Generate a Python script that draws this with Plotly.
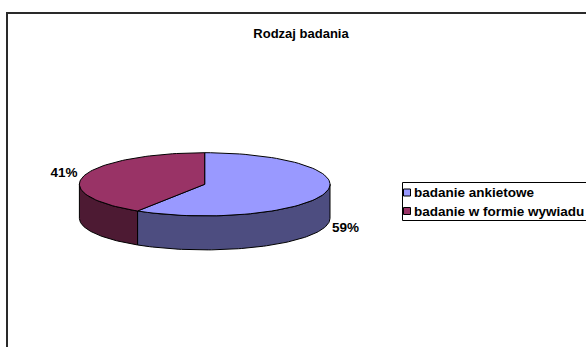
import numpy as np
import plotly.graph_objects as go

# Data
categories = ["badanie ankietowe", "badanie w formie wywiadu"]
shares = [59, 41]
chart_title = "Rodzaj badania"

# Styling
top_colors = ["#9999FF", "#993366"]
side_colors = ["#4D4D80", "#4D1A33"]
FONT = "Arial, 'Liberation Sans', sans-serif"

W, H = 586, 347
# Ellipse geometry of the tilted pie (pixel units)
CX, CY, RX, RY, DEPTH = 204.7, 184.3, 125.3, 31.6, 34


def arc(a_from, a_to, dy=0.0, n=80):
    t = np.radians(np.linspace(a_from, a_to, n))
    return CX + RX * np.cos(t), CY - RY * np.sin(t) + dy


def front_part(lo, hi):
    """Portion of [lo, hi] (degrees) lying on the near half of the ellipse."""
    parts = []
    for k in (-1, 0, 1):
        a, b = -180 + 360 * k, 0 + 360 * k
        s, e = max(lo, a), min(hi, b)
        if e > s:
            parts.append((s, e))
    return parts


fig = go.Figure()

# Slice angles: start at 12 o'clock, run clockwise
total = sum(shares)
starts, ends = [], []
angle = 90.0
for v in shares:
    starts.append(angle)
    angle -= v / total * 360.0
    ends.append(angle)

# Side walls first
for i, (a0, a1) in enumerate(zip(starts, ends)):
    for lo, hi in front_part(a1, a0):
        xt, yt = arc(lo, hi)
        xb, yb = arc(hi, lo, DEPTH)
        xs = np.concatenate([xt, xb, xt[:1]])
        ys = np.concatenate([yt, yb, yt[:1]])
        fig.add_trace(go.Scatter(
            x=xs, y=ys, mode="lines", fill="toself",
            fillcolor=side_colors[i], line=dict(color="#000000", width=1),
            showlegend=False, hoverinfo="skip"))

# Top faces
for i, (a0, a1) in enumerate(zip(starts, ends)):
    xa, ya = arc(a0, a1)
    xs = np.concatenate([[CX], xa, [CX]])
    ys = np.concatenate([[CY], ya, [CY]])
    fig.add_trace(go.Scatter(
        x=xs, y=ys, mode="lines", fill="toself",
        fillcolor=top_colors[i], line=dict(color="#000000", width=1),
        showlegend=False, hoverinfo="skip"))

# Percentage labels placed just outside each slice
lx, ly, lt = [], [], []
for v, a0, a1 in zip(shares, starts, ends):
    mid = np.radians((a0 + a1) / 2)
    x = CX + 1.17 * RX * np.cos(mid)
    y = CY - 1.17 * RY * np.sin(mid)
    if np.sin(mid) < 0:
        y += DEPTH
    lx.append(x)
    ly.append(y)
    lt.append(f"{v}%")
fig.add_trace(go.Scatter(
    x=lx, y=ly, text=lt, mode="text",
    textfont=dict(family=FONT, size=13.5, color="#000000", weight="bold"),
    showlegend=False, hoverinfo="skip"))

# Legend box
LEG_X, LEG_Y, ROW = 402.5, 182.5, 18.5
fig.add_shape(type="rect", xref="x", yref="y",
              x0=LEG_X, y0=LEG_Y, x1=W + 10, y1=LEG_Y + 2 * ROW + 1,
              line=dict(color="#000000", width=1), fillcolor="#FFFFFF", layer="below")
key_y = [LEG_Y + 10 + i * ROW for i in range(len(categories))]
fig.add_trace(go.Scatter(
    x=[LEG_X + 4.5] * len(categories), y=key_y, mode="markers",
    marker=dict(symbol="square", size=7, color=top_colors,
                line=dict(color="#000000", width=1)),
    showlegend=False, hoverinfo="skip"))
for name, y in zip(categories, key_y):
    fig.add_annotation(x=LEG_X + 9.5, y=y, xref="x", yref="y", text=name,
                       showarrow=False, xanchor="left", yanchor="middle",
                       font=dict(family=FONT, size=13.5, color="#000000", weight="bold"))

# Chart area frame
fig.add_shape(type="rect", xref="x", yref="y", x0=7, y0=13, x1=W + 20, y1=H + 20,
              line=dict(color="#2A2A2A", width=2), layer="below")

fig.update_layout(
    width=W, height=H,
    margin=dict(l=0, r=0, t=0, b=0, autoexpand=False),
    paper_bgcolor="#FFFFFF", plot_bgcolor="#FFFFFF",
    showlegend=False,
    title=dict(text=chart_title, x=301 / W, y=1 - 33 / H,
               xanchor="center", yanchor="middle",
               font=dict(family=FONT, size=13, color="#000000", weight="bold")),
    xaxis=dict(range=[0, W], visible=False, fixedrange=True, domain=[0, 1]),
    yaxis=dict(range=[H, 0], visible=False, fixedrange=True, domain=[0, 1]),
)

fig.write_html("out.html")
